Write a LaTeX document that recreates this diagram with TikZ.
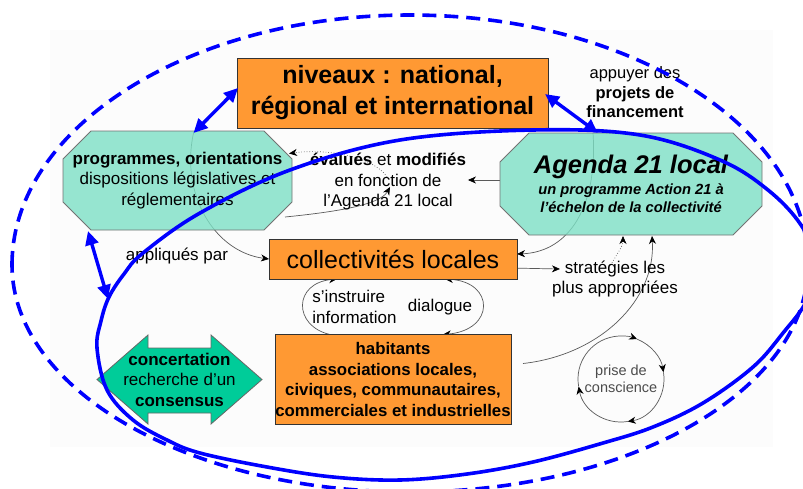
\documentclass[tikz,border=0pt]{standalone}
\usepackage{fontspec}
\setmainfont{Liberation Sans}
\usetikzlibrary{arrows.meta,calc}
\pgfdeclarelayer{bg}
\pgfdeclarelayer{background}
\pgfdeclarelayer{front}
\pgfsetlayers{bg,background,main,front}
\definecolor{orng}{RGB}{255,153,51}
\definecolor{tealhatch}{RGB}{125,224,197}
\definecolor{concgreen}{RGB}{0,204,153}
\definecolor{pureblue}{RGB}{0,0,255}
\definecolor{connline}{RGB}{90,90,90}
\definecolor{panel}{RGB}{252,252,252}
\begin{document}
\begin{tikzpicture}[x=1pt,y=-1pt,
  every node/.style={inner sep=0pt,outer sep=0pt},
  orangebox/.style={draw=black!80,line width=0.8pt,fill=orng,align=center},
  octofill/.style={draw=black!55,line width=0.8pt,fill=tealhatch,fill opacity=0.8},
  conn/.style={draw=connline,line width=0.7pt,-{Stealth[length=8pt,width=7pt,inset=2.5pt,color=black]}},
  connboth/.style={draw=connline,line width=0.7pt,{Stealth[length=8pt,width=7pt,inset=2.5pt,color=black]}-{Stealth[length=8pt,width=7pt,inset=2.5pt,color=black]}},
  bluering/.style={draw=pureblue,line width=3.6pt},
  bluearrow/.style={draw=pureblue,line width=3.4pt,{Triangle[length=14pt,width=13pt]}-{Triangle[length=14pt,width=13pt]}},
  txt/.style={align=center,font=\fontsize{17}{20.5}\selectfont},
]
\useasboundingbox (0,0) rectangle (803,488);
\clip (0,0) rectangle (803,488);

% ---------- nodes ----------
\node[orangebox,minimum width=311,minimum height=70,font=\fontsize{25}{31}\selectfont\bfseries] (niv) at (392.5,93) {niveaux : national,\\régional et international};

\node[txt,minimum width=229,minimum height=99] (prog) at (177.5,180.5) {\textbf{programmes, orientations}\\dispositions législatives et\\réglementaires};

\node[align=center,minimum width=262,minimum height=102,font=\fontsize{14.7}{18}\selectfont\bfseries\itshape] (agenda) at (631,184) {\fontsize{25.5}{27}\selectfont Agenda 21 local\\[3pt]\fontsize{14.7}{18}\selectfont un programme Action 21 à\\\fontsize{14.7}{18}\selectfont l’échelon de la collectivité};

\node[orangebox,minimum width=248,minimum height=40,font=\fontsize{25}{30}\selectfont] (coll) at (393,259) {collectivités locales};

\node[orangebox,minimum width=236,minimum height=90,font=\fontsize{16.8}{20.5}\selectfont\bfseries] (hab) at (393,379.5) {habitants\\associations locales,\\civiques, communautaires,\\commerciales et industrielles};

\node[txt,minimum width=165,minimum height=89] (conc) at (179.5,379.5) {\textbf{concertation}\\recherche d’un\\\textbf{consensus}};

\node[txt,font=\fontsize{16.5}{19.5}\selectfont] (appuyer) at (635,92.5) {appuyer des\\\textbf{projets de}\\\textbf{financement}};
\node[txt] (eval) at (388,182) {\textbf{évalués} et \textbf{modifiés}\\en fonction de\\l’Agenda 21 local};
\node[txt] (appl) at (177,256) {appliqués par};
\node[txt,align=left] (instr) at (354.5,307) {s’instruire\\information};
\node[txt] (dial) at (440,307) {dialogue};
\node[txt,inner xsep=5pt] (strat1) at (615,269) {stratégies les};
\node[txt] (strat2) at (615,289) {plus appropriées};
\node[align=center,font=\fontsize{14.5}{17.5}\selectfont,text=black!70,minimum size=86] (prise) at (621,379) {prise de\\conscience};
\coordinate (ellpt) at (108,299);

% ---------- panel ----------
\begin{pgfonlayer}{bg}
  \fill[panel] (50,30) rectangle (773,447);
\end{pgfonlayer}

% ---------- connectors and shapes behind ----------
\begin{pgfonlayer}{background}
  % appliques par
  \draw[conn] ($(prog.north)+(16,2)$) .. controls (180,195) and (215,252) .. (coll.west);
  % Agenda -> collectivites
  \draw[conn] ($(agenda.north)+(-38,0)$) .. controls (598,205) and (570,252) .. ($(coll.east)+(0,-5)$);
  % programmes -> evalues
  \draw[conn] ($(prog.south east)+(-7,-13)$) .. controls (335,212) and (380,205) .. ($(eval.center)+(2,5)$);
  % evalues -> programmes
  \draw[conn,dotted] ($(eval.center)+(-1,-5)$) .. controls (375,158) and (330,148) .. ($(prog.east)+(-3,-27)$);
  % Agenda -> evalues
  \draw[conn] ($(agenda.west)+(0,-4)$) -- ($(eval.east)+(2,-2)$);
  % collectivites -> strategies
  \draw[conn] ($(coll.east)+(-7,9)$) -- (strat1.west);
  % strategies -> Agenda
  \draw[conn,dotted] ($(strat1.north)+(-3,2)$) .. controls (618,252) and (623,246) .. ($(agenda.south)+(-8,1)$);
  % habitants -> Agenda
  \draw[conn] ($(hab.east)+(12,-16)$) .. controls (600,355) and (656,300) .. ($(agenda.south)+(21,1)$);
  % s'instruire
  \draw[conn] ($(hab.north)+(-63,0)$) .. controls (293,326) and (293,283) .. ($(coll.south)+(-56,0)$);
  % dialogue
  \draw[connboth] ($(coll.south)+(52,0)$) .. controls (495,282) and (495,330) .. ($(hab.north)+(50,0)$);
  % prise de conscience cycle
  \draw[conn] ($(prise.center)+(81:43)$) arc[start angle=81,end angle=170,radius=43];
  \draw[conn] ($(prise.center)+(170:43)$) arc[start angle=170,end angle=292,radius=43];
  \draw[conn] ($(prise.center)+(292:43)$) arc[start angle=292,end angle=351,radius=43];
  \draw[conn] ($(prise.center)+(351:43)$) arc[start angle=351,end angle=441,radius=43];

  % octagons
  \draw[octofill] ($(prog.north west)+(28,0)$) -- ($(prog.north east)+(-28,0)$) -- ($(prog.north east)+(0,28)$) -- ($(prog.south east)+(0,-28)$) -- ($(prog.south east)+(-28,0)$) -- ($(prog.south west)+(28,0)$) -- ($(prog.south west)+(0,-28)$) -- ($(prog.north west)+(0,28)$) -- cycle;
  \draw[octofill] ($(agenda.north west)+(29,0)$) -- ($(agenda.north east)+(-29,0)$) -- ($(agenda.north east)+(0,29)$) -- ($(agenda.south east)+(0,-29)$) -- ($(agenda.south east)+(-29,0)$) -- ($(agenda.south west)+(29,0)$) -- ($(agenda.south west)+(0,-29)$) -- ($(agenda.north west)+(0,29)$) -- cycle;
  % double arrow
  \draw[draw=black!60,line width=0.8pt,fill=concgreen] (conc.west) -- ($(conc.north west)+(51,0)$) -- ($(conc.north west)+(51,13)$) -- ($(conc.north east)+(-51,13)$) -- ($(conc.north east)+(-51,0)$) -- (conc.east) -- ($(conc.south east)+(-51,0)$) -- ($(conc.south east)+(-51,-11)$) -- ($(conc.south west)+(51,-11)$) -- ($(conc.south west)+(51,0)$) -- cycle;
\end{pgfonlayer}

% ---------- blue rings and arrows ----------
\begin{pgfonlayer}{front}
  \draw[bluering,dash pattern=on 14pt off 8pt] (12,265) arc[start angle=180,end angle=360,x radius=398,y radius=250] arc[start angle=0,end angle=180,x radius=398,y radius=227] -- cycle;
  \draw[bluering] plot[smooth cycle,tension=0.6] coordinates {
    (97,348) (101,321) (109,297) (124,274) (143,253) (200,213) (290,170)
    (400,140) (533,130) (640,135) (720,160) (768,190) (801,225) (816,262)
    (807,300) (783,333) (753,367) (703,403) (653,427) (603,443) (533,462)
    (467,474) (400,480) (333,477) (267,467) (200,453) (167,440) (133,420) (107,390)};
  \draw[bluearrow] ($(prog.north)+(16,2)$) -- ($(niv.west)+(1,-5)$);
  \draw[bluearrow] ($(agenda.north)+(-33,0)$) -- ($(niv.east)+(-3,1)$);
  \draw[bluearrow] ($(prog.south west)+(25,1)$) -- (ellpt);
\end{pgfonlayer}
\end{tikzpicture}
\end{document}
